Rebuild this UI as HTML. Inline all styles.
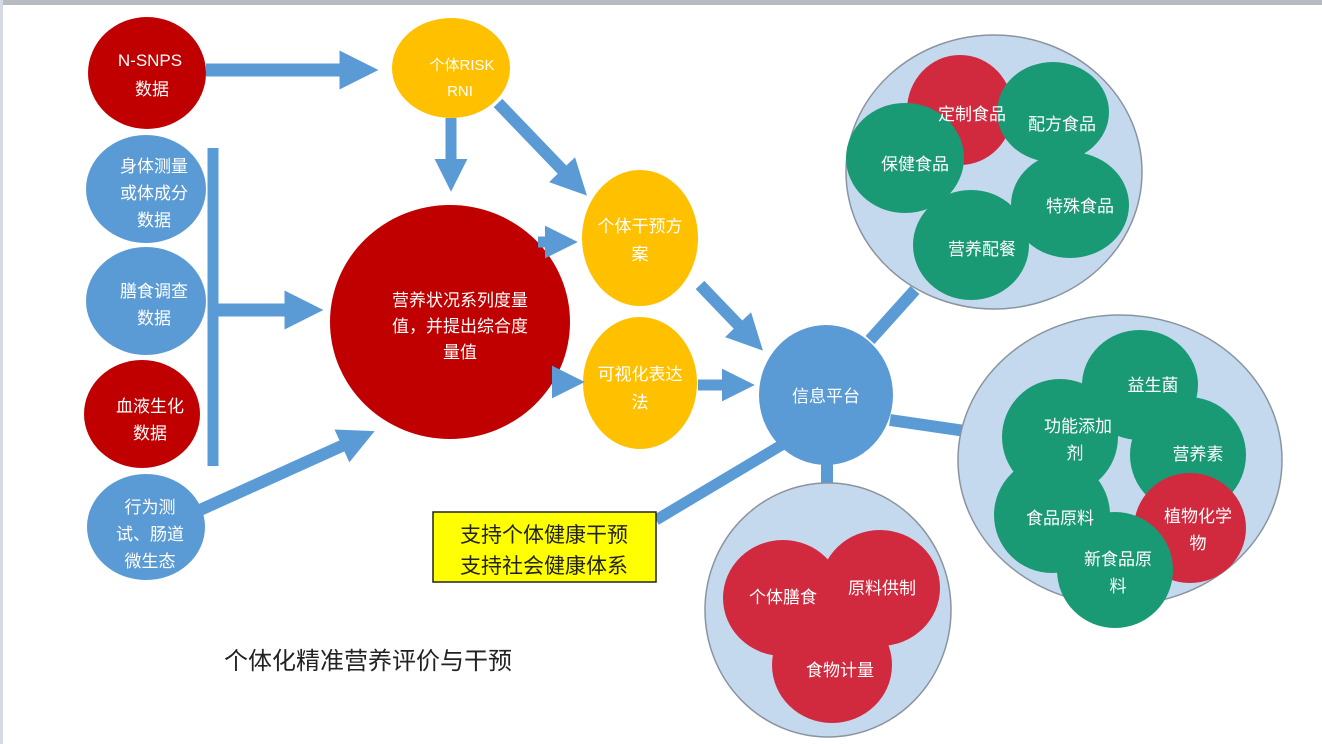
<!DOCTYPE html>
<html><head><meta charset="utf-8"><style>
html,body{margin:0;padding:0;background:#fff;}
svg{display:block;}
text{font-family:"Liberation Sans","Noto Sans CJK SC",sans-serif;}
</style></head><body>
<svg width="1322" height="744" viewBox="0 0 1322 744" xmlns="http://www.w3.org/2000/svg">
<defs>
<marker id="ah" markerWidth="3" markerHeight="3" refX="1.2" refY="1.5" orient="auto" markerUnits="strokeWidth"><path d="M0,0 L3,1.5 L0,3 Z" fill="#5b9bd5"/></marker>
</defs>
<rect x="0" y="0" width="1322" height="5" fill="#b8bcc2"/>
<rect x="0" y="0" width="3" height="744" fill="#d6dbe3"/>
<g stroke="#5b9bd5" fill="none">
<line x1="206" y1="70" x2="355" y2="70" stroke-width="13" marker-end="url(#ah)"/>
<line x1="451" y1="118" x2="451" y2="172" stroke-width="11" marker-end="url(#ah)"/>
<line x1="498" y1="103" x2="572" y2="180" stroke-width="12" marker-end="url(#ah)"/>
<line x1="213" y1="148" x2="213" y2="466" stroke-width="11"/>
<line x1="218" y1="310" x2="300" y2="310" stroke-width="13" marker-end="url(#ah)"/>
<line x1="200" y1="510" x2="355" y2="440" stroke-width="12" marker-end="url(#ah)"/>
<line x1="700" y1="285" x2="748" y2="335" stroke-width="12" marker-end="url(#ah)"/>
<line x1="698" y1="385" x2="735" y2="385" stroke-width="11" marker-end="url(#ah)"/>
<line x1="870" y1="340" x2="915" y2="290" stroke-width="12"/>
<line x1="890" y1="420" x2="972" y2="432" stroke-width="12"/>
<line x1="827" y1="455" x2="827" y2="492" stroke-width="12"/>
<line x1="656" y1="520" x2="785" y2="443" stroke-width="11"/>
</g>
<ellipse cx="147" cy="73" rx="59" ry="56" fill="#c00000"/>
<ellipse cx="146" cy="189" rx="60" ry="54" fill="#5b9bd5"/>
<ellipse cx="146" cy="301" rx="60" ry="54" fill="#5b9bd5"/>
<ellipse cx="142" cy="414" rx="58" ry="54" fill="#c00000"/>
<ellipse cx="146" cy="527" rx="59" ry="53" fill="#5b9bd5"/>
<ellipse cx="451" cy="68" rx="59" ry="50" fill="#ffc000"/>
<ellipse cx="450" cy="322" rx="120" ry="117" fill="#c00000"/>
<ellipse cx="640" cy="238" rx="58" ry="68" fill="#ffc000"/>
<ellipse cx="640" cy="383" rx="57" ry="66" fill="#ffc000"/>
<ellipse cx="826" cy="395" rx="67" ry="70" fill="#5b9bd5"/>
<g stroke="#5b9bd5" fill="none">
<line x1="538" y1="242" x2="558" y2="242" stroke-width="11" marker-end="url(#ah)"/>
<line x1="560" y1="382" x2="565" y2="382" stroke-width="11" marker-end="url(#ah)"/>
</g>
<g fill="#fff" font-size="17" text-anchor="middle">
<text x="150" y="66" font-family="Liberation Serif,serif">N-SNPS</text>
<text x="152" y="95">数据</text>
<text x="154" y="172">身体测量</text><text x="154" y="199">或体成分</text><text x="154" y="226">数据</text>
<text x="154" y="297">膳食调查</text><text x="154" y="324">数据</text>
<text x="150" y="412">血液生化</text><text x="150" y="439">数据</text>
<text x="150" y="513">行为测</text><text x="150" y="540">试、肠道</text><text x="150" y="567">微生态</text>
<text x="462" y="70" font-size="15">个体RISK</text><text x="460" y="96" font-size="15">RNI</text>
<text x="460" y="306">营养状况系列度量</text><text x="460" y="332">值，并提出综合度</text><text x="460" y="358">量值</text>
<text x="640" y="232">个体干预方</text><text x="640" y="260">案</text>
<text x="640" y="380">可视化表达</text><text x="640" y="408">法</text>
<text x="826" y="402">信息平台</text>
</g>
<ellipse cx="994" cy="172" rx="148" ry="137" fill="#c5d9ee" stroke="#8a94a0" stroke-width="1.5"/>
<ellipse cx="960" cy="110" rx="53" ry="55" fill="#d12a3f"/>
<ellipse cx="1053" cy="112" rx="56" ry="50" fill="#1a9a74"/>
<ellipse cx="905" cy="158" rx="59" ry="55" fill="#1a9a74"/>
<ellipse cx="1070" cy="205" rx="59" ry="53" fill="#1a9a74"/>
<ellipse cx="971" cy="245" rx="58" ry="55" fill="#1a9a74"/>
<ellipse cx="1120" cy="460" rx="162" ry="145" fill="#c5d9ee" stroke="#8a94a0" stroke-width="1.5"/>
<ellipse cx="1140" cy="385" rx="58" ry="55" fill="#1a9a74"/>
<ellipse cx="1188" cy="455" rx="58" ry="58" fill="#1a9a74"/>
<ellipse cx="1060" cy="437" rx="58" ry="58" fill="#1a9a74"/>
<ellipse cx="1052" cy="515" rx="58" ry="58" fill="#1a9a74"/>
<ellipse cx="1190" cy="528" rx="56" ry="55" fill="#d12a3f"/>
<ellipse cx="1115" cy="570" rx="58" ry="58" fill="#1a9a74"/>
<ellipse cx="828" cy="610" rx="123" ry="127" fill="#c5d9ee" stroke="#8a94a0" stroke-width="1.5"/>
<ellipse cx="783" cy="598" rx="60" ry="58" fill="#d12a3f"/>
<ellipse cx="880" cy="588" rx="60" ry="58" fill="#d12a3f"/>
<ellipse cx="832" cy="665" rx="60" ry="58" fill="#d12a3f"/>
<g fill="#fff" font-size="17" text-anchor="middle">
<text x="972" y="120">定制食品</text>
<text x="1062" y="130">配方食品</text>
<text x="915" y="170">保健食品</text>
<text x="1080" y="212">特殊食品</text>
<text x="982" y="255">营养配餐</text>
<text x="1153" y="391">益生菌</text>
<text x="1078" y="432">功能添加</text><text x="1075" y="459">剂</text>
<text x="1198" y="460">营养素</text>
<text x="1060" y="524">食品原料</text>
<text x="1198" y="522">植物化学</text><text x="1198" y="549">物</text>
<text x="1118" y="565">新食品原</text><text x="1118" y="592">料</text>
<text x="783" y="603">个体膳食</text>
<text x="882" y="594">原料供制</text>
<text x="840" y="676">食物计量</text>
</g>
<rect x="433" y="512" width="223" height="70" fill="#ffff00" stroke="#222" stroke-width="1.5"/>
<g fill="#222" font-size="21" text-anchor="middle">
<text x="544" y="542">支持个体健康干预</text>
<text x="544" y="573">支持社会健康体系</text>
</g>
<text x="368" y="669" fill="#222" font-size="24" text-anchor="middle">个体化精准营养评价与干预</text>
</svg>
</body></html>
